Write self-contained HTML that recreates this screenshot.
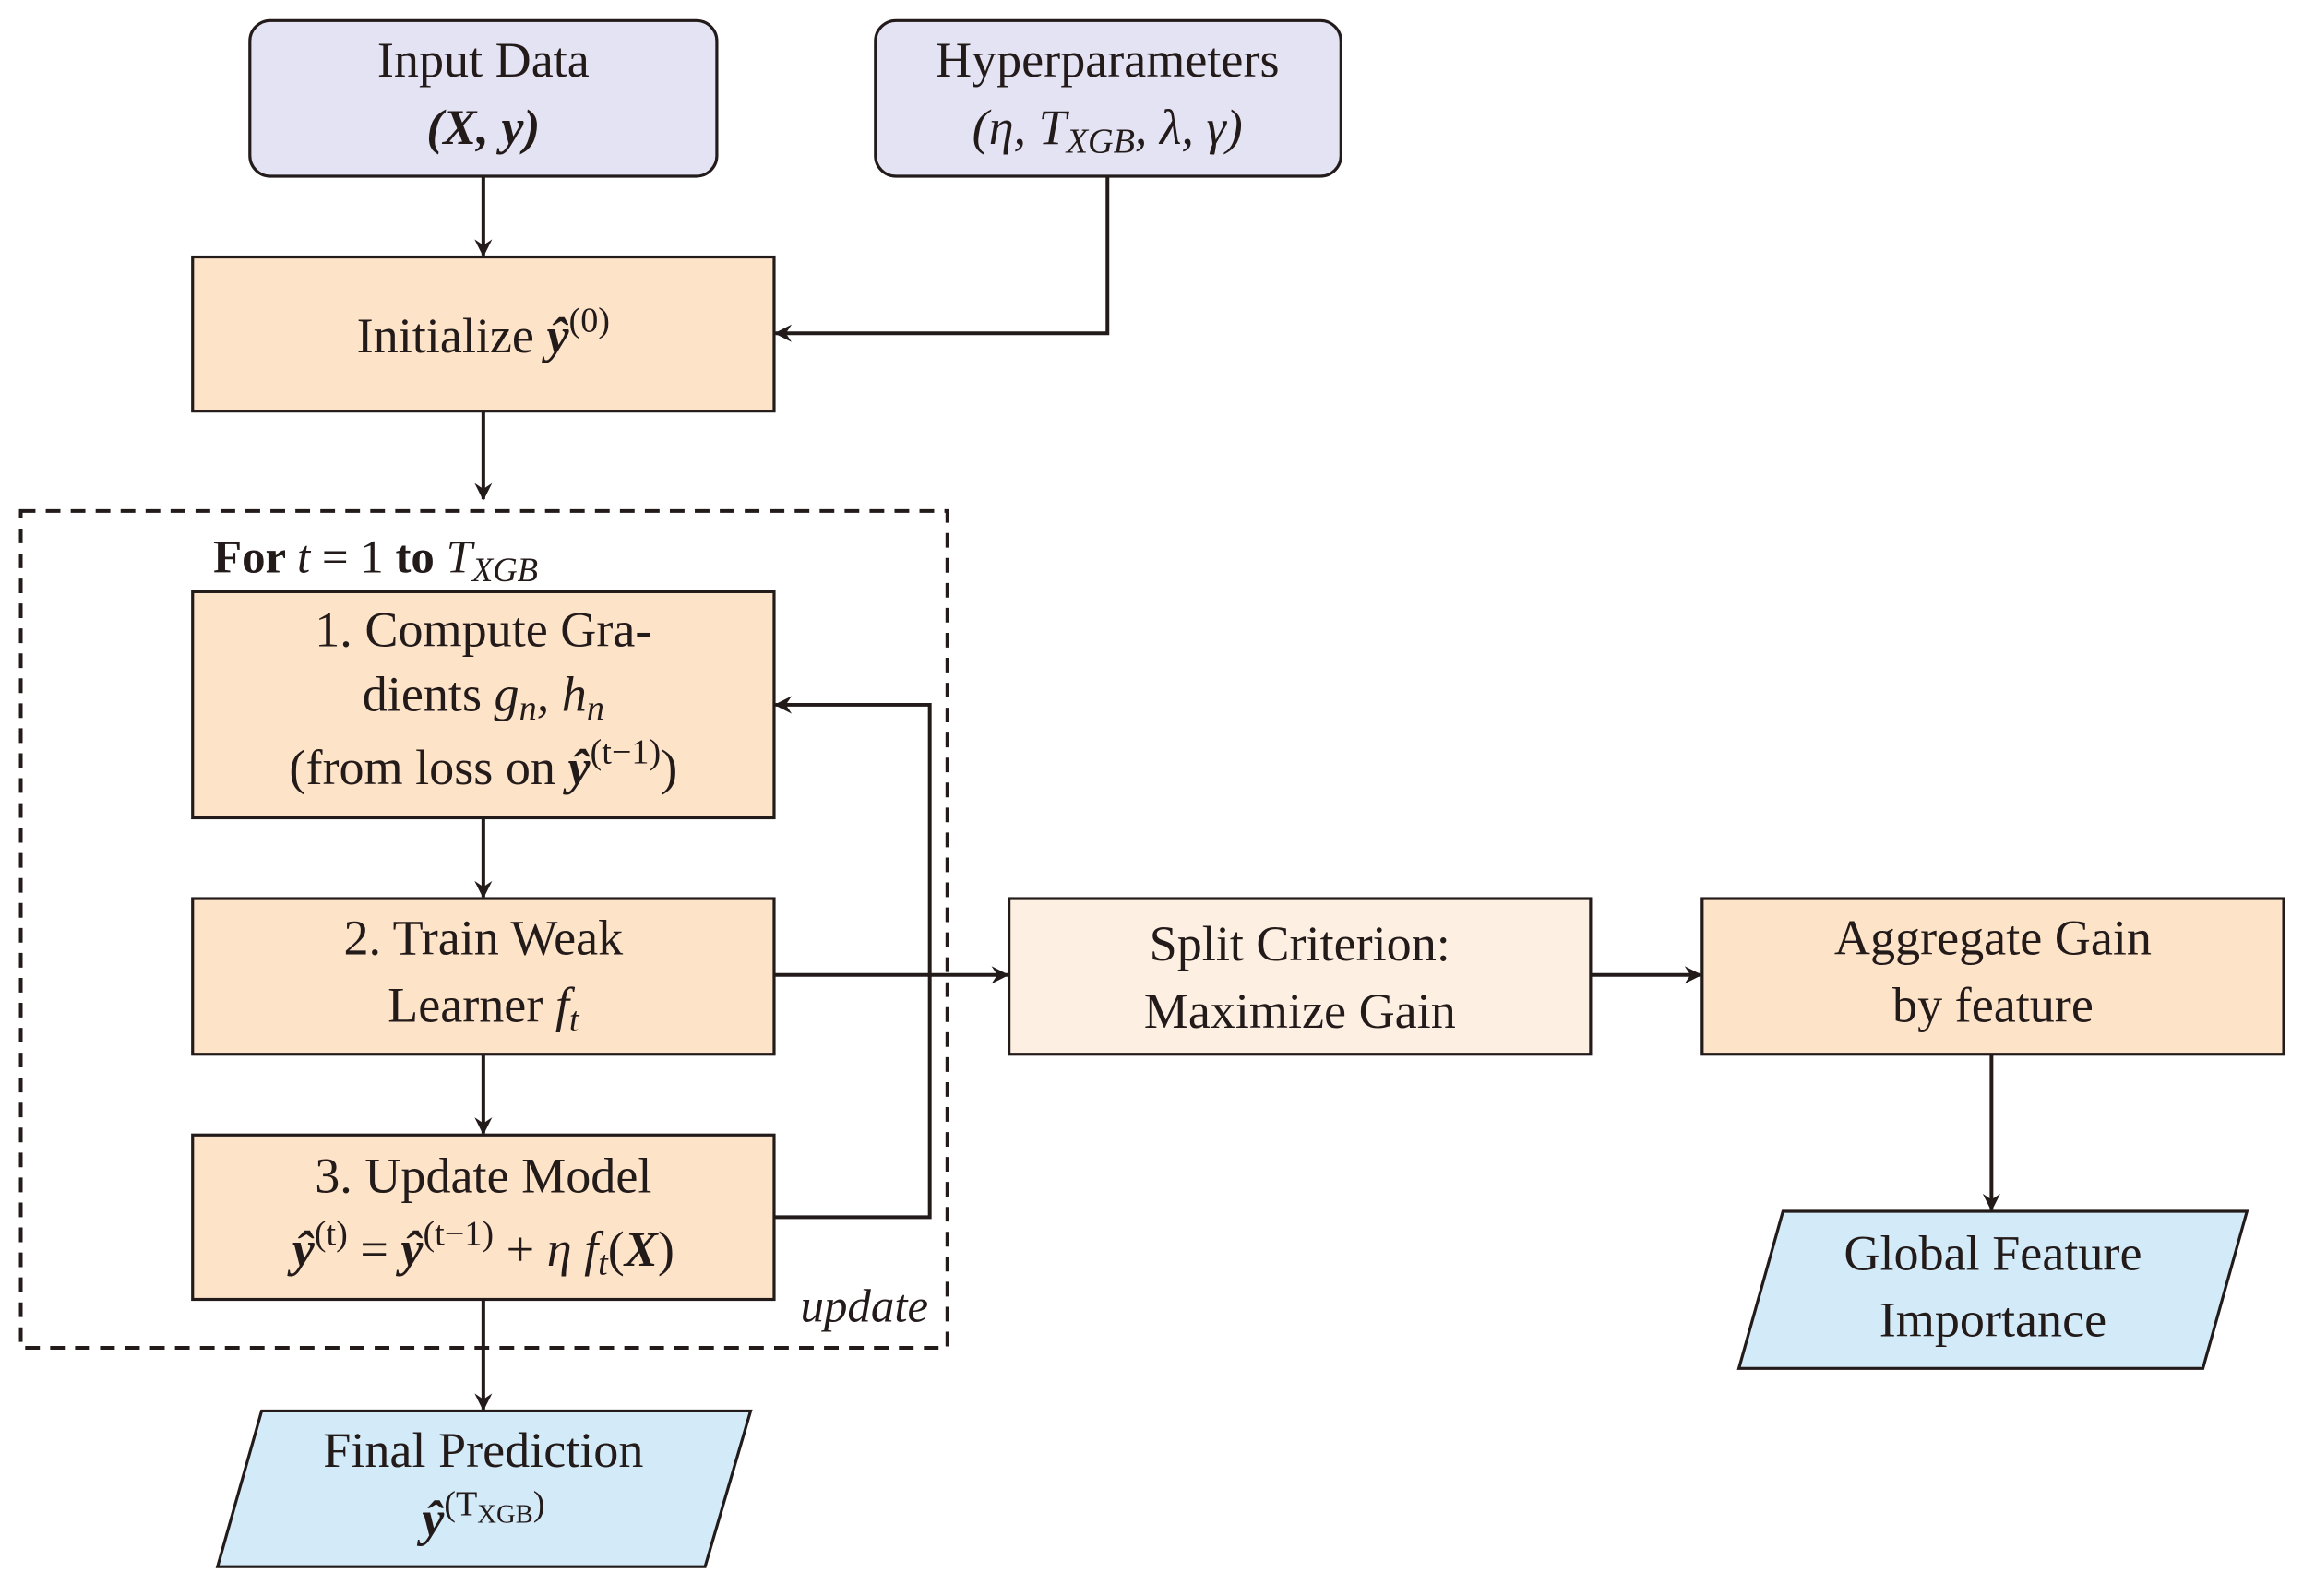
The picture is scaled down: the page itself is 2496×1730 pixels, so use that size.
<!DOCTYPE html>
<html><head><meta charset="utf-8"><style>
html,body{margin:0;padding:0;background:#fff}
svg{display:block}
text{font-family:"Liberation Serif",serif;fill:#231a1a}
</style></head><body>
<svg width="2496" height="1730" viewBox="0 0 1568 1087" xmlns="http://www.w3.org/2000/svg">
<defs><marker id="a" viewBox="0 0 12 12" refX="11" refY="6" markerWidth="12" markerHeight="12" markerUnits="userSpaceOnUse" orient="auto"><path d="M0,0 L12,6 L0,12 L4,6 z" fill="#231a1a"/></marker></defs>
<g stroke="#231a1a" stroke-width="2">
<rect x="170" y="14" width="318" height="106" rx="14" fill="#e4e3f3"/>
<rect x="596" y="14" width="317" height="106" rx="14" fill="#e4e3f3"/>
<rect x="131" y="175" width="396" height="105" fill="#fde3c8"/>
<rect x="14" y="348" width="631" height="570" fill="none" stroke-dasharray="10,7" stroke-width="2.5"/>
<rect x="131" y="403" width="396" height="154" fill="#fde3c8"/>
<rect x="131" y="612" width="396" height="106" fill="#fde3c8"/>
<rect x="131" y="773" width="396" height="112" fill="#fde3c8"/>
<polygon points="178,961 511,961 480,1067 148,1067" fill="#d3ebf8"/>
<rect x="687" y="612" width="396" height="106" fill="#fdf0e3"/>
<rect x="1159" y="612" width="396" height="106" fill="#fde3c8"/>
<polygon points="1214,825 1530,825 1500,932 1184,932" fill="#d3ebf8"/>
<g fill="none" stroke-width="2.5" marker-end="url(#a)">
<path d="M329,120 V174"/>
<path d="M754,120 V227 H528"/>
<path d="M329,280 V340"/>
<path d="M329,557 V611"/>
<path d="M329,718 V772"/>
<path d="M329,885 V960"/>
<path d="M527,829 H633 V480 H528"/>
<path d="M527,664 H686"/>
<path d="M1083,664 H1158"/>
<path d="M1356,718 V824"/>
</g>
</g>
<g font-size="34" text-anchor="middle">
<text x="329" y="52">Input Data</text>
<text x="329" y="98"><tspan font-style="italic" font-weight="bold">(X, y)</tspan></text>
<text x="754" y="52">Hyperparameters</text>
<text x="754" y="98" font-style="italic">(η, T<tspan font-size="24" dy="6">XGB</tspan><tspan dy="-6">, λ, γ)</tspan></text>
<text x="329" y="240">Initialize <tspan font-weight="bold" font-style="italic">ŷ</tspan><tspan font-size="24" dy="-14">(0)</tspan></text>
<text x="329" y="440">1.  Compute Gra-</text>
<text x="329" y="484">dients <tspan font-style="italic">g<tspan font-size="24" dy="6">n</tspan><tspan dy="-6">, h</tspan><tspan font-size="24" dy="6">n</tspan></tspan></text>
<text x="329" y="534">(from loss on <tspan font-weight="bold" font-style="italic">ŷ</tspan><tspan font-size="24" dy="-14">(t−1)</tspan><tspan dy="14">)</tspan></text>
<text x="329" y="650">2.  Train Weak</text>
<text x="329" y="696">Learner <tspan font-style="italic">f<tspan font-size="24" dy="6">t</tspan></tspan></text>
<text x="329" y="812">3.  Update Model</text>
<text x="329" y="862"><tspan font-weight="bold" font-style="italic">ŷ</tspan><tspan font-size="24" dy="-14">(t)</tspan><tspan dy="14"> = </tspan><tspan font-weight="bold" font-style="italic">ŷ</tspan><tspan font-size="24" dy="-14">(t−1)</tspan><tspan dy="14"> + </tspan><tspan font-style="italic">η f</tspan><tspan font-size="24" font-style="italic" dy="6">t</tspan><tspan dy="-6">(</tspan><tspan font-weight="bold" font-style="italic">X</tspan>)</text>
<text x="329" y="999">Final Prediction</text>
<text x="329" y="1046"><tspan font-weight="bold" font-style="italic">ŷ</tspan><tspan font-size="24" dy="-14">(T<tspan font-size="18" dy="5">XGB</tspan><tspan dy="-5">)</tspan></tspan></text>
<text x="885" y="654">Split Criterion:</text>
<text x="885" y="700">Maximize Gain</text>
<text x="1357" y="650">Aggregate Gain</text>
<text x="1357" y="696">by feature</text>
<text x="1357" y="865">Global Feature</text>
<text x="1357" y="910">Importance</text>
</g>
<text x="145" y="390" font-size="32"><tspan font-weight="bold">For </tspan><tspan font-style="italic">t</tspan> = 1 <tspan font-weight="bold">to </tspan><tspan font-style="italic">T</tspan><tspan font-size="23" font-style="italic" dy="6">XGB</tspan></text>
<text x="632" y="900" font-size="32" font-style="italic" text-anchor="end">update</text>
</svg>
</body></html>
